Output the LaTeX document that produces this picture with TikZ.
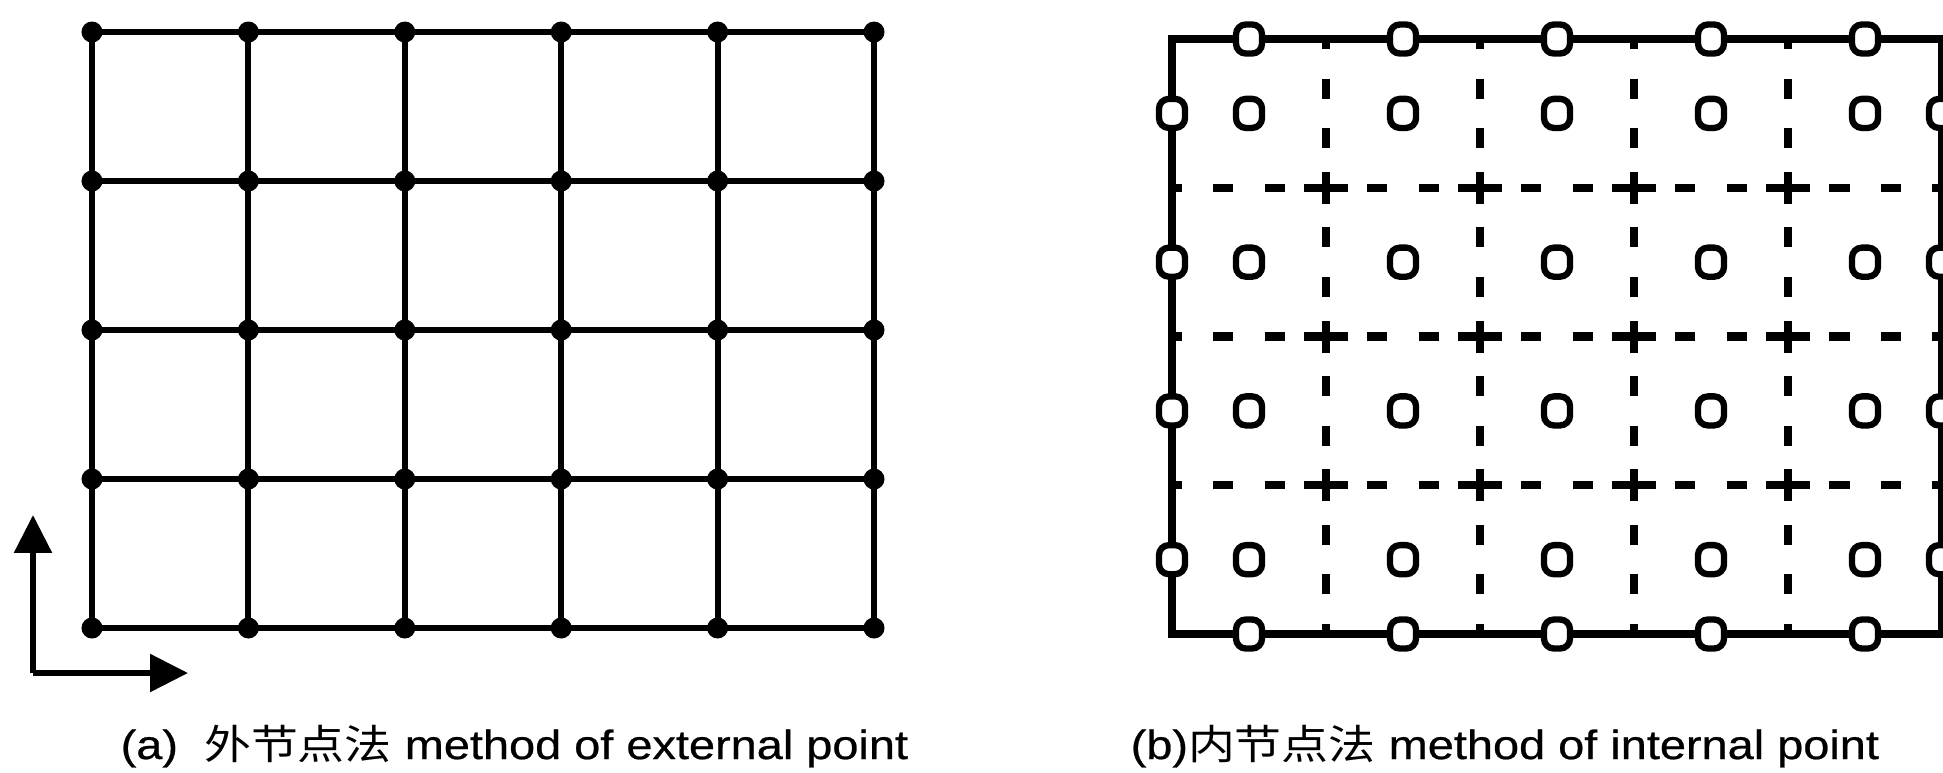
\documentclass[tikz,border=0pt]{standalone}
\usepackage{fontspec}
\usepackage{tikz}
\usetikzlibrary{arrows.meta}
\newfontfamily\lat{Liberation Sans}[FakeStretch=1.15,FakeBold=0.6]
\newfontfamily\cjk{Noto Sans CJK SC}[FakeStretch=1.15]
\definecolor{tinte}{HTML}{000000}
\tikzset{
  gitter/.style={tinte,line width=1.7pt},
  punkt/.style={circle,fill=tinte,inner sep=0pt,minimum size=0.21cm},
  rand/.style={tinte,line width=2.4pt},
  strichx/.style={tinte,line width=2.3pt,dash pattern=on 5.7pt off 8.9pt,dash phase=2.85pt},
  strichy/.style={tinte,line width=2.3pt,dash pattern=on 5.7pt off 8.4pt,dash phase=2.85pt},
  kreuz/.style={tinte,line width=2.3pt},
  ring/.style={draw=tinte,fill=white,line width=1.8pt,rounded corners=2.8pt,inner sep=0pt,minimum width=0.26cm,minimum height=0.29cm},
  achse/.style={-{Triangle[length=10.8pt,width=10.5pt]},tinte,line width=1.7pt},
  titel/.style={inner sep=0pt,anchor=base west,font=\lat\fontsize{11.6}{14}\selectfont},
}
\begin{document}
\begin{tikzpicture}[x=0.01cm,y=-0.01cm]
  \useasboundingbox (0,0) rectangle (1943,772);
  % (a) external nodes
  \foreach \i in {0,...,5}
    \foreach \j in {0,...,4}
      \node[punkt] (a\i\j) at ({92+156.4*\i},{32+149*\j}) {};
  \foreach \i in {0,...,5}
    \draw[gitter] (a\i0.center) -- (a\i4.center);
  \foreach \j in {0,...,4}
    \draw[gitter] (a0\j.center) -- (a5\j.center);
  \coordinate (o) at (33,673);
  \coordinate (oy) at (33,515);
  \coordinate (ox) at (188,673);
  \draw[achse] (o) -- (oy);
  \draw[achse] (o) -- (ox);
  % (b) internal nodes
  \coordinate (rlo) at (1172,39);
  \coordinate (rru) at (1942,634);
  \foreach \i in {1,...,4}
    \draw[strichy] ({1172+154*\i},39) -- ({1172+154*\i},634);
  \foreach \j in {1,2,3}
    \draw[strichx] (1172,{39+148.75*\j}) -- (1942,{39+148.75*\j});
  \foreach \i in {1,...,4}
    \foreach \j in {1,2,3}
      \draw[kreuz] ({1150+154*\i},{39+148.75*\j}) -- ({1194+154*\i},{39+148.75*\j})
                   ({1172+154*\i},{23+148.75*\j}) -- ({1172+154*\i},{55+148.75*\j});
  \draw[rand] (rlo) rectangle (rru);
  \foreach \i in {0,...,4} {
    \node[ring] (t\i) at ({1249+154*\i},39) {};
    \node[ring] (u\i) at ({1249+154*\i},634) {};
  }
  \foreach \j in {0,...,3} {
    \node[ring] (l\j) at (1172,{113.4+148.75*\j}) {};
    \node[ring] (r\j) at (1942,{113.4+148.75*\j}) {};
    \foreach \i in {0,...,4}
      \node[ring] (m\i\j) at ({1249+154*\i},{113.4+148.75*\j}) {};
  }
  % captions
  \node[titel] (capa) at (120,759) {(a)\ \ {\cjk 外节点法} method of external point};
  \node[titel] (capb) at (1130,759) {(b){\cjk 内节点法} method of internal point};
\end{tikzpicture}
\end{document}
